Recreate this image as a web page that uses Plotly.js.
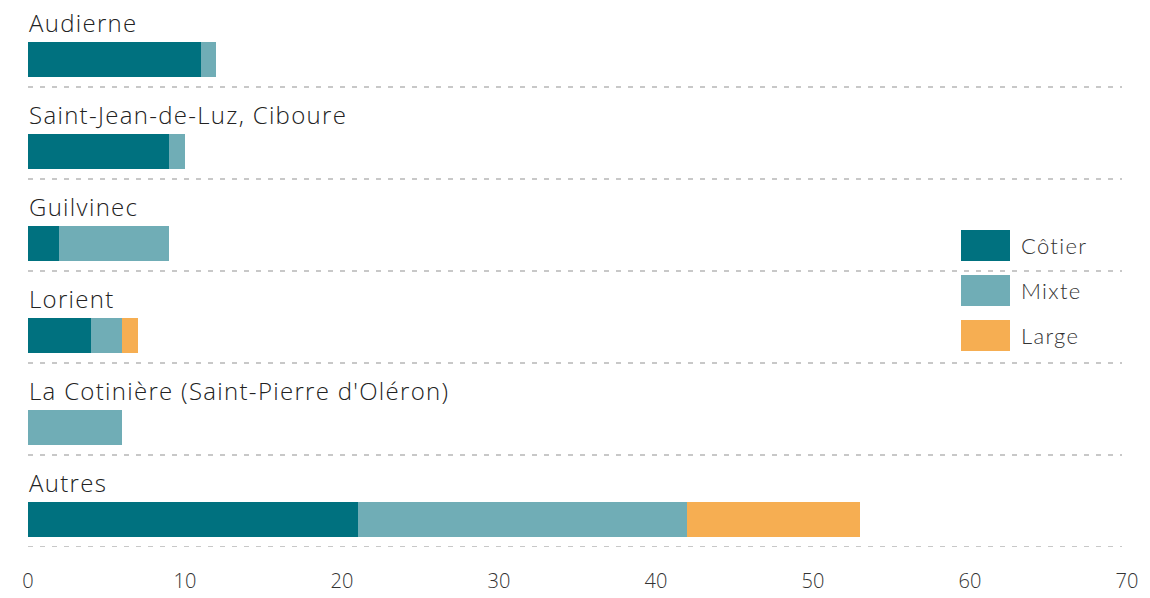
<!DOCTYPE html>
<html>
<head>
<meta charset="utf-8">
<script src="https://cdn.plot.ly/plotly-3.0.1.min.js"></script>
<style>html,body{margin:0;padding:0;background:#fff;}#chart{width:1150px;height:598px;}
#chart .annotation-text{letter-spacing:1.3px;}</style>
</head>
<body>
<div id="chart"></div>
<script>
const categories = ["Audierne", "Saint-Jean-de-Luz, Ciboure", "Guilvinec", "Lorient", "La Cotinière (Saint-Pierre d'Oléron)", "Autres"];
const seriesNames = ["Côtier", "Mixte", "Large"];
const cotier = [11, 9, 2, 4, 0, 21];
const mixte = [1, 1, 7, 2, 6, 21];
const large = [0, 0, 0, 1, 0, 11];
const xTicks = [0, 10, 20, 30, 40, 50, 60, 70];
const colors = ["#00717f", "#70adb6", "#f6ae52"];

const values = [cotier, mixte, large];
const FONT = "'Open Sans', sans-serif";
const LFONT = "Lato, sans-serif";

const W = 1150, H = 598;
const mL = 28, mR = 23, mT = 0, mB = 51;
const plotW = W - mL - mR, plotH = H - mT - mB;
const px2paperX = p => (p - mL) / plotW;
const px2paperY = p => 1 - (p - mT) / plotH;

const traces = values.map((v, i) => ({
  type: 'bar',
  orientation: 'h',
  name: seriesNames[i],
  y: categories.map((c, k) => k),
  x: v,
  width: 0.38,
  offset: 0.01,
  marker: {color: colors[i], line: {width: 0}},
  showlegend: false,
  hoverinfo: 'x+name'
}));

const shapes = [];
const annotations = [];
categories.forEach((c, k) => {
  shapes.push({
    type: 'line', xref: 'paper', yref: 'y',
    x0: 0, x1: px2paperX(1122), y0: k + 0.5, y1: k + 0.5,
    line: {color: '#c8c8c8', width: 2, dash: '5px,7px'}
  });
  annotations.push({
    xref: 'x', yref: 'y', x: 0, y: k, yshift: 19, xshift: -1,
    xanchor: 'left', yanchor: 'middle', align: 'left', showarrow: false,
    text: c, font: {family: FONT, size: 24, weight: 300, color: '#222'}
  });
});

// manual legend
seriesNames.forEach((n, i) => {
  const top = 230 + 45 * i;
  shapes.push({
    type: 'rect', xref: 'paper', yref: 'paper',
    x0: px2paperX(961), x1: px2paperX(1010),
    y0: px2paperY(top + 31), y1: px2paperY(top),
    fillcolor: colors[i], line: {width: 0}
  });
  annotations.push({
    xref: 'paper', yref: 'paper', x: px2paperX(1019), y: px2paperY(top + 15.5),
    xanchor: 'left', yanchor: 'middle', align: 'left', showarrow: false,
    text: n, font: {family: LFONT, size: 22, weight: 300, color: '#333'}
  });
});

const layout = {
  width: W, height: H,
  margin: {l: mL, r: mR, t: mT, b: mB, pad: 0},
  paper_bgcolor: '#fff', plot_bgcolor: '#fff',
  barmode: 'stack',
  showlegend: false,
  font: {family: FONT, color: '#333'},
  xaxis: {
    range: [0, 70], tickvals: xTicks, ticktext: xTicks.map(String),
    showgrid: false, zeroline: false, showline: false, ticks: '',
    ticklabelstandoff: 20,
    tickfont: {family: FONT, size: 20, weight: 300, color: '#333'}, fixedrange: true
  },
  yaxis: {
    range: [categories.length - 0.5, -0.446],
    showgrid: false, zeroline: false, showline: false, showticklabels: false, ticks: '',
    fixedrange: true
  },
  shapes: shapes,
  annotations: annotations
};

Plotly.newPlot('chart', traces, layout, {displayModeBar: false, staticPlot: true});
</script>
</body>
</html>
